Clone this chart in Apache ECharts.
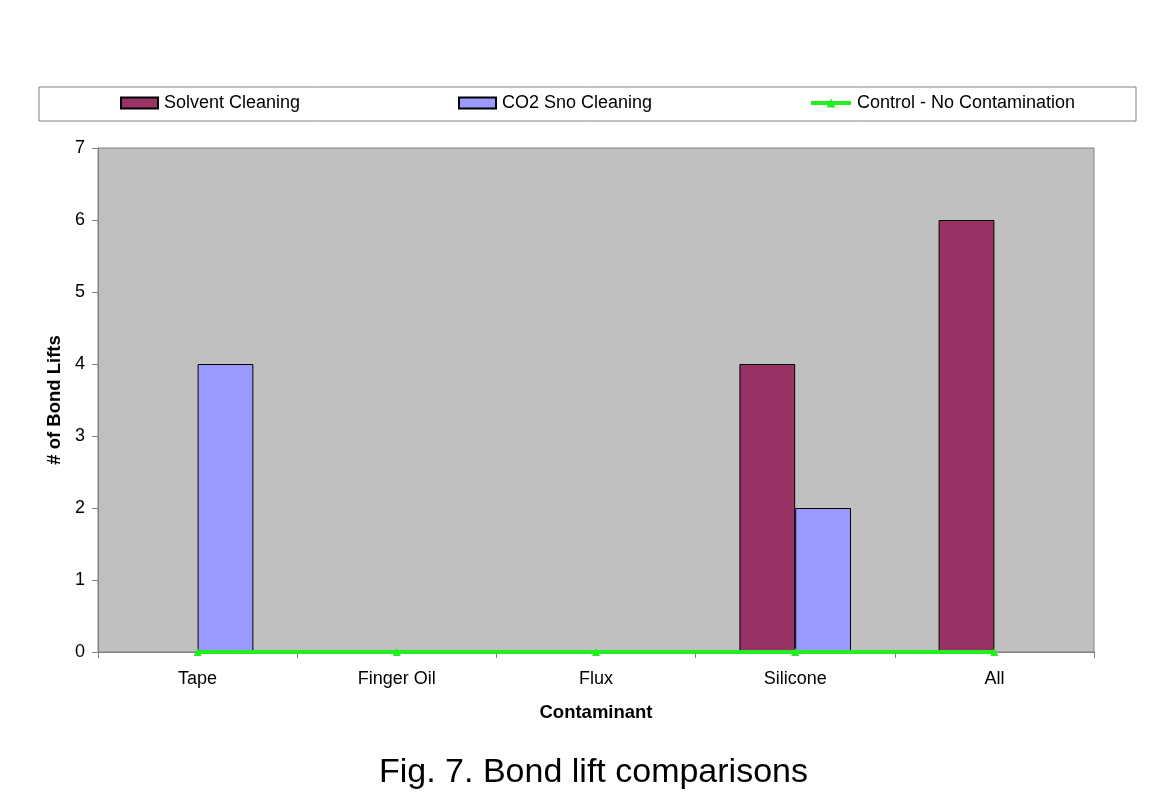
<!DOCTYPE html>
<html><head><meta charset="utf-8">
<script src="https://cdn.jsdelivr.net/npm/echarts@6/dist/echarts.min.js"></script>
<style>html,body{margin:0;padding:0;background:#fff}#c{width:1175px;height:800px}</style>
</head><body><div id="c"></div>
<script>
const categories = ['Tape','Finger Oil','Flux','Silicone','All'];
const solvent = [0,0,0,4,6];
const co2 = [4,0,0,2,0];
const control = [0,0,0,0,0];
const yTicks = [0,1,2,3,4,5,6,7];
const seriesNames = ['Solvent Cleaning','CO2 Sno Cleaning','Control - No Contamination'];

const chart = echarts.init(document.getElementById('c'));
const font = 'Liberation Sans, Arial, sans-serif';
const legendBase = {top: 89, itemWidth: 37, itemHeight: 11, itemGap: 0,
  textStyle:{fontFamily: font, fontSize: 18, color:'#000', padding:[0,0,0,1]}};
const barData = arr => arr.map(v => v === 0 ? {value:v, itemStyle:{borderWidth:0}} : v);
chart.setOption({
  animation:false,
  title:{text:'Fig. 7. Bond lift comparisons', left:374, top:751,
    textStyle:{fontFamily:font, fontSize:34, fontWeight:'normal', color:'#000'}},
  graphic:[{type:'rect', shape:{x:39,y:87,width:1097,height:34},
    style:{fill:'none', stroke:'#808080', lineWidth:1}}],
  legend:[
    Object.assign({}, legendBase, {left:115, icon:'rect', data:[seriesNames[0]]}),
    Object.assign({}, legendBase, {left:453, icon:'rect', data:[seriesNames[1]]}),
    Object.assign({}, legendBase, {left:804, itemWidth:40, lineStyle:{width:4}, data:[seriesNames[2]]})
  ],
  grid:{left:98, right:81, top:148, bottom:148, show:true, backgroundColor:'#C0C0C0', borderColor:'#808080', borderWidth:1},
  xAxis:{type:'category', data:categories, name:'Contaminant', nameLocation:'middle', nameGap:51,
    nameTextStyle:{fontFamily:font, fontSize:18.5, fontWeight:'bold', color:'#000'},
    axisLine:{lineStyle:{color:'#808080', width:1}},
    axisTick:{show:true, alignWithLabel:false, length:6, lineStyle:{color:'#808080'}},
    axisLabel:{fontFamily:font, fontSize:18, color:'#000', margin:18}},
  yAxis:{type:'value', min:0, max:7, interval:1, name:'# of Bond Lifts', nameLocation:'middle', nameGap:33,
    nameTextStyle:{fontFamily:font, fontSize:18.5, fontWeight:'bold', color:'#000'},
    axisLine:{show:true, lineStyle:{color:'#808080', width:1}},
    axisTick:{show:true, length:6, lineStyle:{color:'#808080'}},
    splitLine:{show:false},
    axisLabel:{fontFamily:font, fontSize:18, color:'#000', margin:13,
      formatter:v=>yTicks.includes(v)?String(v):''}},
  series:[
    {name:seriesNames[0], type:'bar', data:barData(solvent), barGap:'0%', barCategoryGap:'44%',
      itemStyle:{color:'#993366', borderColor:'#000', borderWidth:1}},
    {name:seriesNames[1], type:'bar', data:barData(co2), barGap:'0%', barCategoryGap:'44%',
      itemStyle:{color:'#9999FF', borderColor:'#000', borderWidth:1}},
    {name:seriesNames[2], type:'line', data:control, symbol:'triangle', symbolSize:8,
      lineStyle:{color:'#22EE22', width:4}, itemStyle:{color:'#22EE22'}, z:5}
  ]
});
</script></body></html>
